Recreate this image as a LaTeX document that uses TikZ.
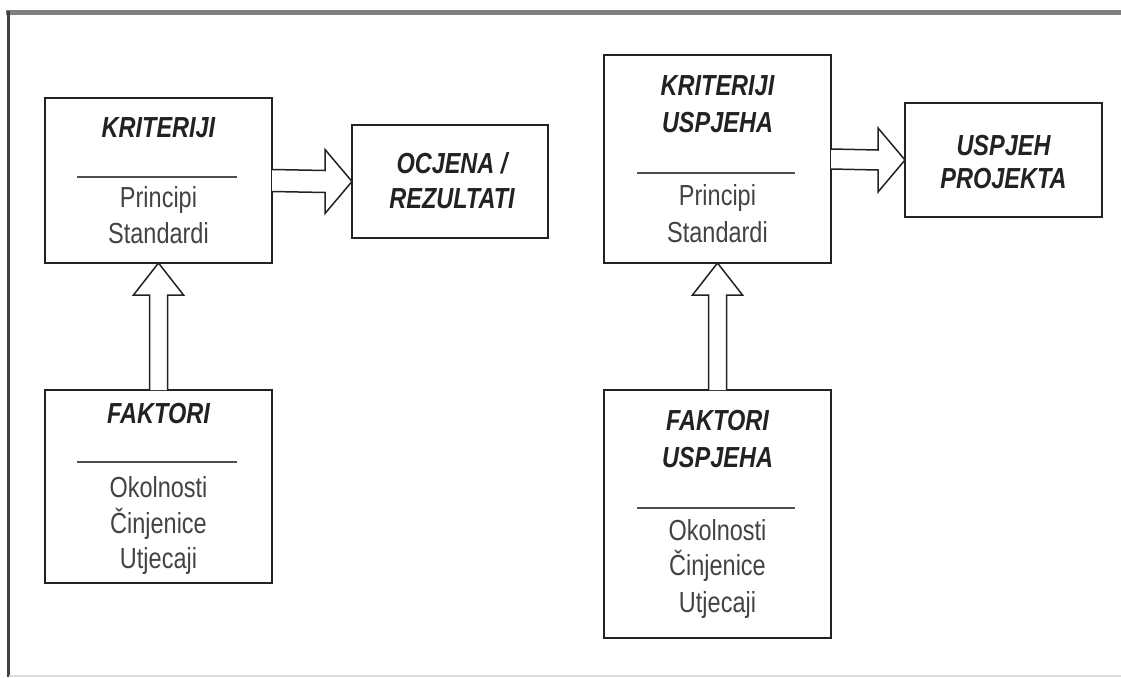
\documentclass[tikz,border=0pt]{standalone}
\usepackage{fontspec}
\setmainfont{Liberation Sans}[FakeStretch=0.81]
\usetikzlibrary{calc}
\definecolor{ink}{HTML}{222222}
\definecolor{framegray}{HTML}{808080}
\definecolor{framedark}{HTML}{404040}
\definecolor{framelight}{HTML}{DDDDDD}
\begin{document}
\begin{tikzpicture}[x=1pt,y=-1pt,
  box/.style={draw=ink, line width=2.5pt, fill=white, inner sep=0pt, outer sep=0pt},
  ttl/.style={anchor=base, font=\fontsize{29}{35}\selectfont\bfseries\itshape, text=ink, inner sep=0pt},
  txt/.style={anchor=base, font=\fontsize{29}{35}\selectfont, text=ink!85, inner sep=0pt},
  divider/.style={draw=ink!80, line width=1.5pt},
  blockarrow/.style={draw=ink, line width=1.5pt, fill=white, line join=miter},
  frametop/.style={draw=framegray, line width=5pt},
  frameleft/.style={draw=framedark, line width=3pt},
  framebottom/.style={draw=framelight, line width=1.5pt}]
\useasboundingbox (0,0) rectangle (1121,677);
\fill[white] (0,0) rectangle (1121,677);
% frame
\draw[frametop] (6,13) -- (1121,13);
\draw[frameleft] (8,11) -- (8,677);
\draw[framebottom] (9,676) -- (1121,676);

% boxes
\node[box, minimum width=227pt, minimum height=165pt] (k1) at (158.5,180.5) {};
\node[box, minimum width=196pt, minimum height=113pt] (o1) at (450,181.5) {};
\node[box, minimum width=227pt, minimum height=193pt] (f1) at (158.5,486.5) {};
\node[box, minimum width=227pt, minimum height=208pt] (k2) at (717.5,159) {};
\node[box, minimum width=197pt, minimum height=114pt] (u2) at (1003.5,160) {};
\node[box, minimum width=227pt, minimum height=248pt] (f2) at (717.5,514) {};

% dividers
\draw[divider] (77,177) -- (237,177);
\draw[divider] (77,462) -- (237,462);
\draw[divider] (637,173) -- (795,173);
\draw[divider] (637,508) -- (795,508);

% texts: left criteria
\node[ttl] (k1t) at (158.5,137) {KRITERIJI};
\node[txt] (k1a) at (158.5,207) {Principi};
\node[txt] (k1b) at (158.5,243) {Standardi};
% result
\node[ttl] (o1a) at (452,173.5) {OCJENA /};
\node[ttl] (o1b) at (452,208.5) {REZULTATI};
% left factors
\node[ttl] (f1t) at (158.5,423) {FAKTORI};
\node[txt] (f1a) at (158.5,497) {Okolnosti};
\node[txt] (f1b) at (158.5,533) {Činjenice};
\node[txt] (f1c) at (158.5,568) {Utjecaji};
% right criteria
\node[ttl] (k2t) at (717.5,95.5) {KRITERIJI};
\node[ttl] (k2u) at (717.5,132.5) {USPJEHA};
\node[txt] (k2a) at (717.5,205.5) {Principi};
\node[txt] (k2b) at (717.5,242.5) {Standardi};
% project success
\node[ttl] (u2a) at (1003.5,155.5) {USPJEH};
\node[ttl] (u2b) at (1003.5,188) {PROJEKTA};
% right factors
\node[ttl] (f2t) at (717.5,430.5) {FAKTORI};
\node[ttl] (f2u) at (717.5,467.5) {USPJEHA};
\node[txt] (f2a) at (717.5,540.5) {Okolnosti};
\node[txt] (f2b) at (717.5,575.5) {Činjenice};
\node[txt] (f2c) at (717.5,612.5) {Utjecaji};

% block arrows
\draw[blockarrow] ($(k1.east)+(0,-11)$) -- ($(o1.west)+(-27,-11)$) -- ($(o1.west)+(-27,-32)$) -- (o1.west) -- ($(o1.west)+(-27,32)$) -- ($(o1.west)+(-27,11)$) -- ($(k1.east)+(0,11)$);
\draw[blockarrow] ($(k2.east)+(0,-10)$) -- ($(u2.west)+(-27,-10)$) -- ($(u2.west)+(-27,-32)$) -- (u2.west) -- ($(u2.west)+(-27,32)$) -- ($(u2.west)+(-27,10)$) -- ($(k2.east)+(0,10)$);
\draw[blockarrow] ($(f1.north)+(-9,0)$) -- ($(k1.south)+(-9,32)$) -- ($(k1.south)+(-25,32)$) -- (k1.south) -- ($(k1.south)+(25,32)$) -- ($(k1.south)+(9,32)$) -- ($(f1.north)+(9,0)$);
\draw[blockarrow] ($(f2.north)+(-9,0)$) -- ($(k2.south)+(-9,32)$) -- ($(k2.south)+(-25,32)$) -- (k2.south) -- ($(k2.south)+(25,32)$) -- ($(k2.south)+(9,32)$) -- ($(f2.north)+(9,0)$);
\end{tikzpicture}
\end{document}
